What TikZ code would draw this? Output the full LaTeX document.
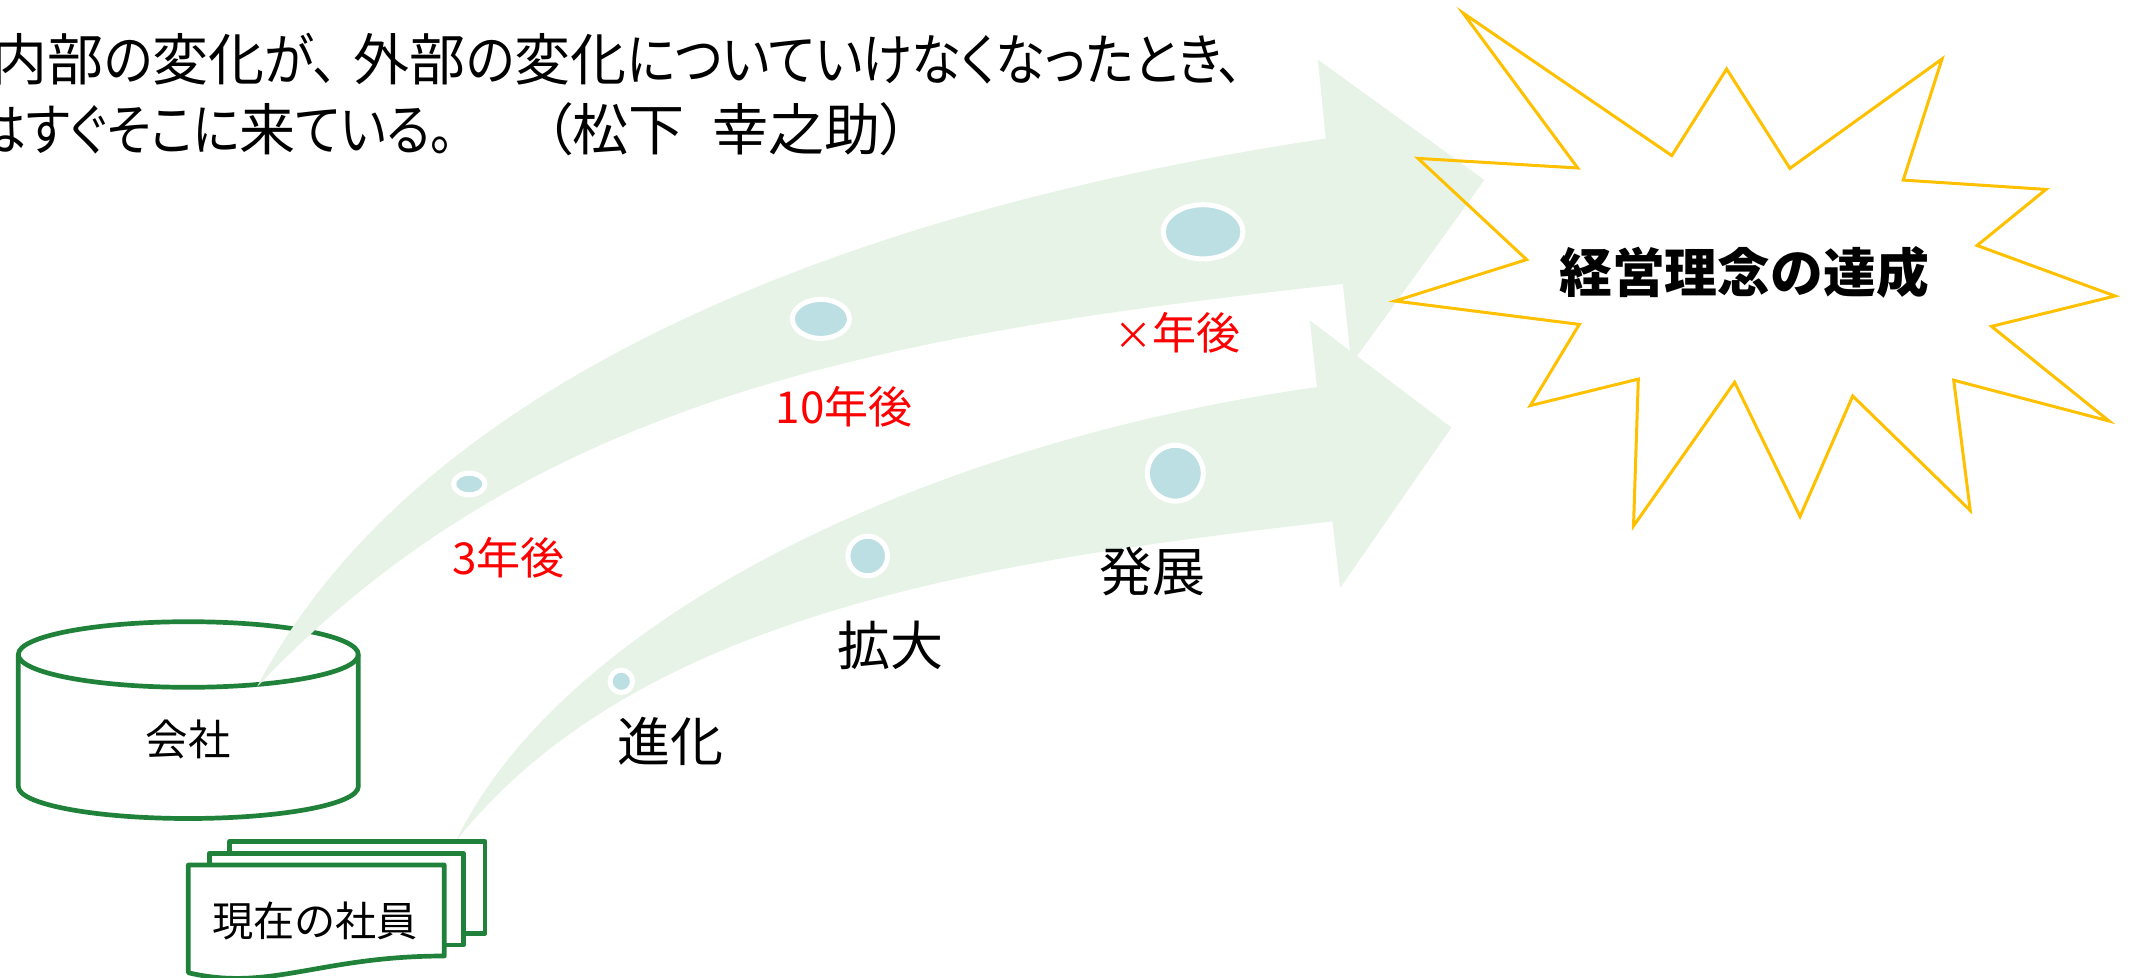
\documentclass[tikz,border=0pt]{standalone}
\usepackage{fontspec}
\setmainfont{Noto Sans CJK JP}
\newfontfamily\palt[RawFeature=+palt]{Noto Sans CJK JP}
\newfontfamily\kanafont[RawFeature=+palt,FakeStretch=0.90]{Noto Sans CJK JP}
\newfontfamily\kanafontb[RawFeature=+palt,FakeStretch=0.87]{Noto Sans CJK JP}
\newcommand\kn[1]{{\kanafont #1}}
\newcommand\knb[1]{{\kanafontb #1}}
\usetikzlibrary{shapes.geometric}
\definecolor{arrowgreen}{HTML}{E8F3E8}
\definecolor{linegreen}{HTML}{20823A}
\definecolor{dotblue}{HTML}{BBDFE3}
\definecolor{staryellow}{HTML}{FFC000}
\tikzset{
  bigarrow/.style={fill=arrowgreen,draw=none},
  outline/.style={draw=linegreen,line width=2.35pt,line join=round,fill=white},
  dot/.style={ellipse,fill=dotblue,draw=white,line width=2.5pt,inner sep=0pt},
  lab/.style={inner sep=0pt,font=\fontsize{#1}{#1}\selectfont},
  redlab/.style={lab=22,text=red},
  blacklab/.style={lab=26.5,text=black}
}
\begin{document}
\begin{tikzpicture}[x=0.5pt,y=-0.5pt]
\useasboundingbox (0,0) rectangle (2134,978);
% cylinder
\draw[outline] (18.3,654.5) -- (18.3,786.5) arc[start angle=180,end angle=0,x radius=170,y radius=32] -- (358.3,654.5) arc[start angle=0,end angle=-180,x radius=170,y radius=32.8] -- cycle;
\draw[outline,fill=none] (18.3,654.5) arc[start angle=180,end angle=0,x radius=170,y radius=32.8];
\node[lab=21.2] (company) at (188,739) {会社};
% upper arrow
\fill[bigarrow] (257,687) .. controls (420,375) and (860,208) .. (1325.8,138.6)
  -- (1317.8,59.6) -- (1484.4,180) -- (1351.3,364) -- (1342.8,284)
  .. controls (887,334) and (532,396) .. (257,687) -- cycle;
% lower arrow
\fill[bigarrow] (456,841) .. controls (560,625) and (910,445) .. (1316.9,387)
  -- (1309.8,320.4) -- (1451.4,427.5) -- (1340,588.2) -- (1332.5,521.4)
  .. controls (1000,560) and (640,610) .. (456,841) -- cycle;
% documents
\draw[outline] (229.3,853) -- (229.3,841.7) -- (485,841.7) -- (485,933.3) -- (463.3,933.3);
\draw[outline] (209.3,865) -- (209.3,853.3) -- (463.3,853.3) -- (463.3,945) -- (444.3,945);
\draw[outline] (188.3,972.7) -- (188.3,865) -- (444.3,865) -- (444.3,956)
  .. controls (320,956) and (270,992) .. (188.3,972.7) -- cycle;
\node[lab=20.6] (staff) at (315,921) {現在の社員};
% star
\draw[staryellow,line width=1.5pt,line join=miter,miter limit=20]
 (1463,13)--(1577.7,168)--(1418,158.4)--(1526.6,259.6)--(1395,301)--(1579.3,324.4)
 --(1530.3,405.6)--(1638.3,379.1)--(1633.5,526)--(1734.6,382.2)--(1800,516.5)--(1852.7,396)
 --(1970.2,510.5)--(1953.7,380.2)--(2109,421)--(1991.5,326.4)--(2115,296)--(1977.1,245.5)
 --(2046,189.4)--(1903.2,180.1)--(1942,59)--(1789.9,168.4)--(1726.6,69)--(1671.8,155.6)--cycle;
\node[font=\fontsize{26.4}{26.4}\selectfont\bfseries,inner sep=0pt] (goal) at (1744,272) {経営理念の達成};
% dots
\node[dot,minimum width=15.7pt,minimum height=10.8pt] (d1) at (469.3,484) {};
\node[dot,minimum width=28.5pt,minimum height=19.5pt] (d2) at (820.9,318.9) {};
\node[dot,minimum width=39.8pt,minimum height=27.1pt] (d3) at (1203.1,231.8) {};
\node[dot,minimum width=11.2pt,minimum height=11.2pt] (d4) at (621.3,681.3) {};
\node[dot,minimum width=19.8pt,minimum height=19.8pt] (d5) at (867.7,556) {};
\node[dot,minimum width=28pt,minimum height=27.9pt] (d6) at (1175.3,473.2) {};
% labels
\node[redlab] (y3) at (508.3,558) {3年後};
\node[redlab] (y10) at (844,407) {10年後};
\node[redlab,anchor=east] (yx) at (1241,333) {\palt {\fontsize{19}{19}\selectfont ×}年後};
\node[blacklab] (l1) at (670,741) {進化};
\node[blacklab] (l2) at (890,645) {拡大};
\node[blacklab] (l3) at (1152.6,572) {発展};
% quote
\node[lab=28,anchor=east] (q1) at (1244,59) {\palt 内部\kn{の}変化\kn{が、}\hspace{8pt}外部\kn{の}変化\kn{についていけなくなったとき、}};
\node[lab=28,anchor=east] (q2) at (455,129) {\palt \knb{はすぐそこに}来\knb{ている。}};
\node[lab=28,anchor=east] (q3) at (909,129) {\palt （松下\hspace{14pt}幸之助）};
\end{tikzpicture}
\end{document}
